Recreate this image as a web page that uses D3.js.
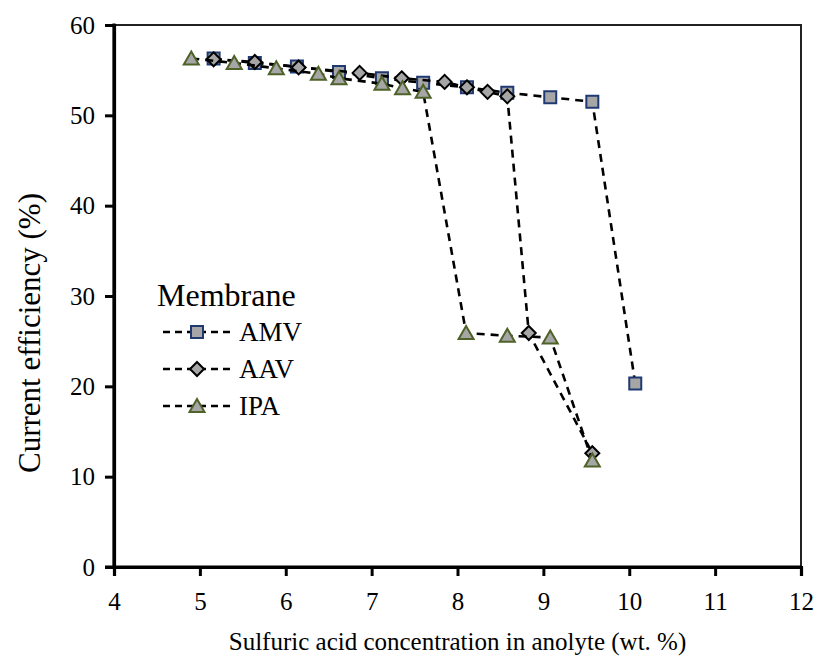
<!DOCTYPE html>
<html>
<head>
<meta charset="utf-8">
<script src="https://cdn.jsdelivr.net/npm/d3@7"></script>
<style>
  html, body { margin: 0; padding: 0; background: #fff; }
</style>
</head>
<body>
<svg id="chart" width="821" height="662"></svg>
<script>
// Current efficiency vs. sulfuric acid concentration, per membrane type
const amvX = [5.16, 5.64, 6.13, 6.62, 7.12, 7.60, 8.11, 8.58, 9.08, 9.57, 10.07];
const amvY = [56.3, 55.8, 55.4, 54.8, 54.1, 53.6, 53.1, 52.5, 52.0, 51.5, 20.3];

const aavX = [5.16, 5.64, 6.15, 6.86, 7.35, 7.85, 8.11, 8.35, 8.58, 8.83, 9.57];
const aavY = [56.2, 55.9, 55.3, 54.7, 54.1, 53.7, 53.1, 52.6, 52.1, 25.9, 12.6];

const ipaX = [4.90, 5.40, 5.89, 6.38, 6.62, 7.12, 7.36, 7.60, 8.10, 8.58, 9.08, 9.57];
const ipaY = [56.3, 55.8, 55.2, 54.6, 54.1, 53.5, 53.0, 52.6, 25.9, 25.6, 25.4, 11.8];

const seriesNames = ["AMV", "AAV", "IPA"];
const xTicks = [4, 5, 6, 7, 8, 9, 10, 11, 12];
const yTicks = [0, 10, 20, 30, 40, 50, 60];

const legendTitle = "Membrane";
const xTitle = "Sulfuric acid concentration in anolyte (wt. %)";
const yTitle = "Current efficiency (%)";

const serif = "'Liberation Serif', 'Times New Roman', serif";
const plotL = 114, plotR = 801, plotT = 25, plotB = 567;

const svg = d3.select("#chart");
const x = d3.scaleLinear().domain([4, 12]).range([plotL, plotR]);
const y = d3.scaleLinear().domain([0, 60]).range([plotB, plotT]);

const markerFill = "#a6a6a6";
const styles = {
  AMV: { shape: "square", stroke: "#1f3a73" },
  AAV: { shape: "diamond", stroke: "#000000" },
  IPA: { shape: "triangle", stroke: "#4f6228" }
};

function markerPath(shape) {
  if (shape === "square") return "M-6,-6H6V6H-6Z";
  if (shape === "diamond") return "M0,-7L7,0L0,7L-7,0Z";
  return "M0,-7L7.5,6L-7.5,6Z";
}

// frame (top and right edges)
svg.append("path")
  .attr("d", `M${plotL},${plotT}H${plotR}V${plotB}`)
  .attr("fill", "none").attr("stroke", "#222").attr("stroke-width", 2);

// axes
const xAxis = svg.append("g").attr("transform", `translate(0,${plotB})`)
  .call(d3.axisBottom(x).tickValues(xTicks).tickSize(9).tickPadding(16).tickFormat(d3.format("d")));
const yAxis = svg.append("g").attr("transform", `translate(${plotL},0)`)
  .call(d3.axisLeft(y).tickValues(yTicks).tickSize(9).tickPadding(10).tickFormat(d3.format("d")));

[xAxis, yAxis].forEach(g => {
  g.attr("font-family", null).attr("font-size", null);
  g.select(".domain").attr("stroke", "#000").attr("stroke-width", 3.2);
  g.selectAll(".tick line").attr("stroke", "#000").attr("stroke-width", 3);
  g.selectAll(".tick text").style("font-family", serif).style("font-size", "25px").attr("fill", "#000");
});
// extend the bottom axis line to meet the y tick at zero
svg.append("line").attr("x1", plotL - 9).attr("x2", plotR + 1)
  .attr("y1", plotB).attr("y2", plotB).attr("stroke", "#000").attr("stroke-width", 3.2);
svg.append("line").attr("x1", plotL).attr("x2", plotL)
  .attr("y1", plotT - 1.5).attr("y2", plotB + 1.5).attr("stroke", "#000").attr("stroke-width", 3.2);

// axis titles
svg.append("text").attr("x", (plotL + plotR) / 2).attr("y", 650)
  .attr("text-anchor", "middle").style("font-family", serif).style("font-size", "25px").text(xTitle);
svg.append("text").attr("transform", `translate(40,${(plotT + plotB) / 2 + 37}) rotate(-90)`)
  .attr("text-anchor", "middle").style("font-family", serif).style("font-size", "31px").text(yTitle);

// series: dashed line then markers
const data = { AMV: [amvX, amvY], AAV: [aavX, aavY], IPA: [ipaX, ipaY] };
const line = d3.line().x(d => x(d[0])).y(d => y(d[1]));

seriesNames.forEach(name => {
  const [xs, ys] = data[name];
  const pts = xs.map((v, i) => [v, ys[i]]);
  const st = styles[name];
  svg.append("path").datum(pts).attr("d", line)
    .attr("fill", "none").attr("stroke", "#000").attr("stroke-width", 2.6)
    .attr("stroke-dasharray", "8,6");
  svg.append("g").selectAll("path").data(pts).join("path")
    .attr("d", markerPath(st.shape))
    .attr("transform", d => `translate(${x(d[0])},${y(d[1])})`)
    .attr("fill", markerFill).attr("stroke", st.stroke).attr("stroke-width", 2);
});

// legend
const lg = svg.append("g");
lg.append("text").attr("x", 157).attr("y", 306)
  .style("font-family", serif).style("font-size", "32px").text(legendTitle);
seriesNames.forEach((name, i) => {
  const cy = 332 + i * 37;
  const st = styles[name];
  lg.append("line").attr("x1", 163).attr("x2", 231).attr("y1", cy).attr("y2", cy)
    .attr("stroke", "#000").attr("stroke-width", 2.6).attr("stroke-dasharray", "7,5");
  lg.append("path").attr("d", markerPath(st.shape))
    .attr("transform", `translate(197,${cy})`)
    .attr("fill", markerFill).attr("stroke", st.stroke).attr("stroke-width", 2);
  lg.append("text").attr("x", 239).attr("y", cy + 9)
    .style("font-family", serif).style("font-size", "27px").text(name);
});
</script>
</body>
</html>
